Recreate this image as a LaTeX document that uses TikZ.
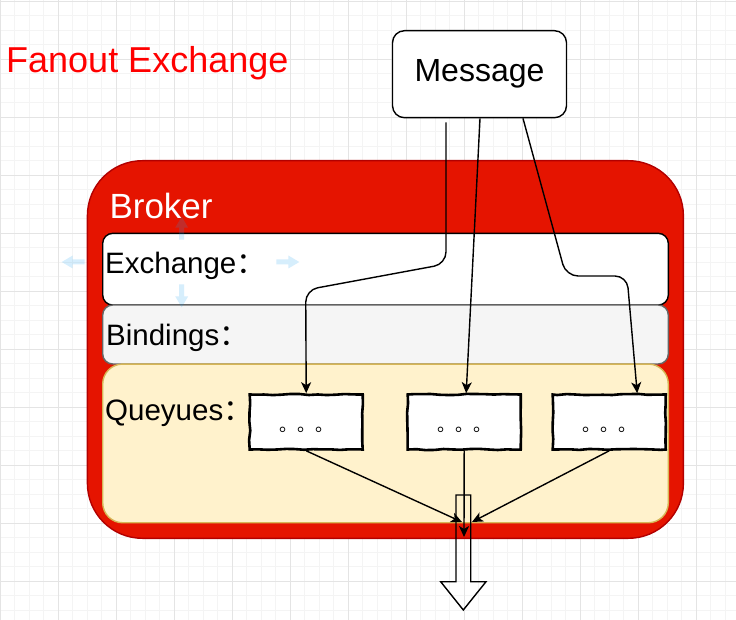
\documentclass[tikz,border=0pt]{standalone}
\usepackage{fontspec}
\setmainfont{Liberation Sans}
\newfontfamily\cjk{Noto Sans CJK SC}
\usetikzlibrary{arrows.meta,decorations.pathmorphing}
\definecolor{brokerred}{HTML}{E51400}
\definecolor{brokerline}{HTML}{B20000}
\definecolor{bindfill}{HTML}{F5F5F5}
\definecolor{bindline}{HTML}{666666}
\definecolor{queuefill}{HTML}{FFF2CC}
\definecolor{queueline}{HTML}{D6B656}
\definecolor{gridmajor}{HTML}{E4E4E4}
\definecolor{gridminor}{HTML}{F4F4F4}
\definecolor{hintblue}{HTML}{1DA1F2}
\tikzset{
  caja/.style={draw, line width=1.4pt, inner sep=0pt},
  cola/.style={draw, fill=white, line width=2.6pt, inner sep=0pt,
    minimum width=113pt, minimum height=55pt, decorate,
    decoration={random steps, segment length=9pt, amplitude=0.6pt}},
  etiqueta/.style={anchor=base west, inner sep=0pt, font=\fontsize{29.5}{34}\selectfont},
  flecha/.style={line width=1.4pt, rounded corners=12pt,
    -{Stealth[length=11pt,width=10pt,inset=3pt]}},
  puntos/.style={inner sep=0pt, font=\cjk\fontsize{18}{20}\selectfont},
  pics/pista/.style={code={\fill[hintblue, fill opacity=0.18] (0,0) -- (11,-6.5) -- (11,-2.5)
    -- (23,-2.5) -- (23,2.5) -- (11,2.5) -- (11,6.5) -- cycle;}}
}
\pgfmathsetseed{7}
\begin{document}
\begin{tikzpicture}[x=1pt,y=-1pt]
\useasboundingbox (0,0) rectangle (736,620);
% Cuadricula
\foreach \i in {0,...,50}
  \draw[gridminor, line width=0.8pt] ({0.3+14.5*\i},0) -- ({0.3+14.5*\i},620);
\foreach \i in {0,...,42}
  \draw[gridminor, line width=0.8pt] (0,{1.3+14.5*\i}) -- (736,{1.3+14.5*\i});
\foreach \i in {0,...,12}
  \draw[gridmajor, line width=0.8pt] ({0.3+58*\i},0) -- ({0.3+58*\i},620);
\foreach \i in {0,...,10}
  \draw[gridmajor, line width=0.8pt] (0,{1.3+58*\i}) -- (736,{1.3+58*\i});
% Titulo
\node[anchor=base west, inner sep=0pt, red, font=\fontsize{36}{42}\selectfont] (titulo) at (6,72.7) {Fanout Exchange};
% Mensaje
\node[caja, fill=white, rounded corners=12pt, minimum width=174pt, minimum height=87pt,
  font=\fontsize{32}{36}\selectfont] (message) at (479.5,74.2) {Message};
% Broker
\node[draw=brokerline, fill=brokerred, line width=1.4pt, rounded corners=55pt,
  minimum width=596pt, minimum height=377.6pt] (broker) at (385.4,349.5) {};
\node[anchor=base west, inner sep=0pt, white, font=\fontsize{35}{42}\selectfont] (brokertxt) at (109.3,218.3) {Broker};
% Capas
\node[caja, fill=white, rounded corners=10pt, minimum width=565.6pt, minimum height=71.7pt] (exchange) at (385.5,269.2) {};
\node[caja, draw=bindline, fill=bindfill, rounded corners=10pt, minimum width=565.6pt, minimum height=59pt] (bindings) at (385.5,334.5) {};
\node[caja, draw=queueline, fill=queuefill, rounded corners=20pt, minimum width=565.6pt, minimum height=158.7pt] (queues) at (385.5,443.4) {};
\node[etiqueta] (exlbl) at (105,273.3) {Exchange{\cjk ：}};
\node[etiqueta] (bdlbl) at (106,345) {Bindings{\cjk ：}};
\node[etiqueta] (qulbl) at (105,420.5) {Queyues{\cjk ：}};
% Colas
\node[cola] (q1) at (306.2,422) {};
\node[cola] (q2) at (464.2,422) {};
\node[cola] (q3) at (609.2,422) {};
\foreach \q in {q1,q2,q3}
  \node[puntos] (\q-p) at ([yshift=-8pt]\q.center) {。。。};
% Pistas
\pic at (61.7,262) {pista};
\pic[rotate=180] at (299.3,262) {pista};
\pic[rotate=-90] at (181.7,216.7) {pista};
\pic[rotate=90] at (181.7,307.3) {pista};
% Salida
\draw[line width=1.4pt] (456,495) -- (470.7,495) -- (470.7,581.7) -- (486,581.7)
  -- (463.3,610) -- (440.7,581.7) -- (456,581.7) -- cycle;
\coordinate (junta) at (464,522);
% Conexiones
\draw[flecha] ([xshift=-33.5pt,yshift=-4pt]message.south) -- (446,264) -- (305.7,290) -- (q1.north);
\draw[flecha] ([xshift=0.5pt]message.south) -- ([xshift=2pt]q2.north);
\draw[flecha] ([xshift=43.5pt]message.south) -- (566,276) -- (627,276) -- ([xshift=28pt]q3.north);
\draw[flecha] (q1.south) -- ([xshift=-2pt]junta);
\draw[flecha] (q2.south) -- ([yshift=-15pt]junta);
\draw[flecha] (q3.south) -- ([xshift=8pt]junta);
\end{tikzpicture}
\end{document}
